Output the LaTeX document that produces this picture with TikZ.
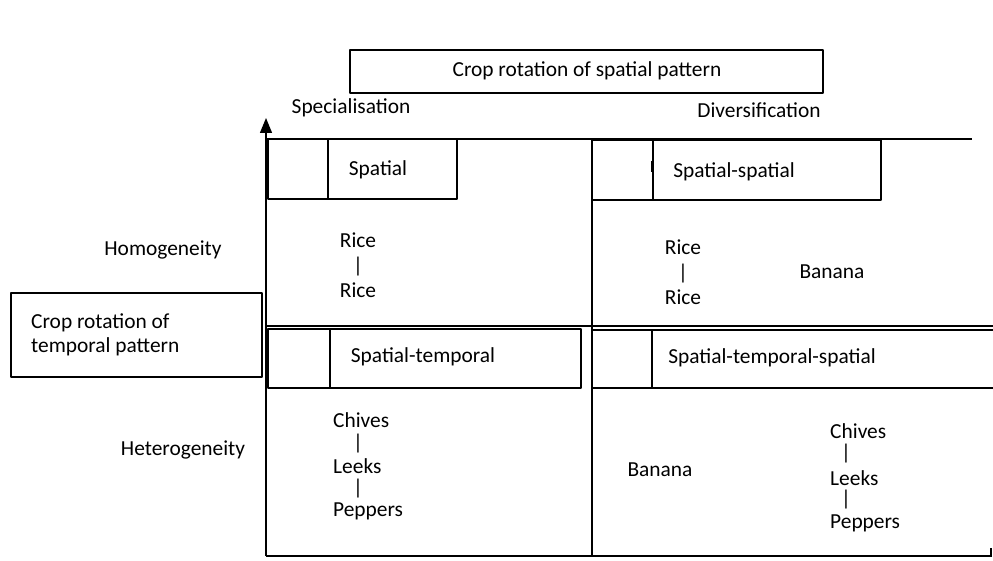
\documentclass[tikz,border=0pt]{standalone}
\usepackage{fontspec}
\setmainfont{Carlito}
\usetikzlibrary{arrows.meta}

\begin{document}
\begin{tikzpicture}[x=1pt,y=-1pt,line join=round,
  rule/.style={line width=1.3pt},
  cellbox/.style={draw,line width=1.3pt},
  lbl/.style={font=\fontsize{21.4}{24}\selectfont,inner sep=0pt}]
\useasboundingbox (0,0) rectangle (993,561);
\clip (0,0) rectangle (993,561);
% headings
\draw[cellbox] (350,50) rectangle (823,93);
\node[lbl] (title) at (587,71) {Crop rotation of spatial pattern};
\draw[cellbox] (11,293) rectangle (262,377);
\node[lbl,anchor=west,align=left] (temporal) at (31,335) {Crop rotation of\\temporal pattern};
\node[lbl] (special) at (351,108) {Specialisation};
\node[lbl] (divers) at (759,110) {Diversification};
\node[lbl] (homog) at (163,250) {Homogeneity};
\node[lbl] (heterog) at (183,450) {Heterogeneity};
% axes and grid
\draw[rule,-{Triangle[length=15pt,width=12pt]}] (266,556) -- (266,118);
\draw[rule] (266,556) -- (991,556);
\draw[line width=2pt] (991,548) -- (991,557);
\draw[rule] (266,139) -- (972,139);
\draw[rule] (266,326) -- (993,326);
\draw[rule] (592,139) -- (592,556);
% cell boxes
\draw[cellbox] (268,139) rectangle (457,199);
\draw[rule] (328,139) -- (328,199);
\node[lbl] (spatial) at (378,170) {Spatial};
\draw[cellbox] (592,140) rectangle (881,200);
\draw[rule] (653,140) -- (653,200);
\draw[line width=1pt] (651,161) -- (651,172);
\node[lbl] (spsp) at (734,172) {Spatial-spatial};
\draw[cellbox] (268,329) rectangle (581,388);
\draw[rule] (330,329) -- (330,388);
\node[lbl] (sptm) at (423,357) {Spatial-temporal};
\draw[cellbox] (592,330) rectangle (1005,388);
\draw[rule] (652,330) -- (652,388);
\node[lbl] (sptmsp) at (772,358) {Spatial-temporal-spatial};
% crops
\node[lbl,align=center,font=\fontsize{21.4}{25}\selectfont] (riceA) at (358,265) {Rice\\|\\Rice};
\node[lbl,align=center,font=\fontsize{21.4}{25}\selectfont] (riceB) at (683,272) {Rice\\|\\Rice};
\node[lbl] (bananaA) at (832,272) {Banana};
\node[lbl,anchor=west] (chivesA) at (333,420) {Chives};
\node[lbl] (barA) at (358,444) {|};
\node[lbl,anchor=west] (leeksA) at (333,466) {Leeks};
\node[lbl] (barB) at (358,489) {|};
\node[lbl,anchor=west] (peppersA) at (333,511) {Peppers};
\node[lbl] (bananaB) at (660,470) {Banana};
\node[lbl,anchor=west] (chivesB) at (830,431) {Chives};
\node[lbl] (barC) at (846,454) {|};
\node[lbl,anchor=west] (leeksB) at (830,478) {Leeks};
\node[lbl] (barD) at (846,500) {|};
\node[lbl,anchor=west] (peppersB) at (830,523) {Peppers};
\end{tikzpicture}
\end{document}
